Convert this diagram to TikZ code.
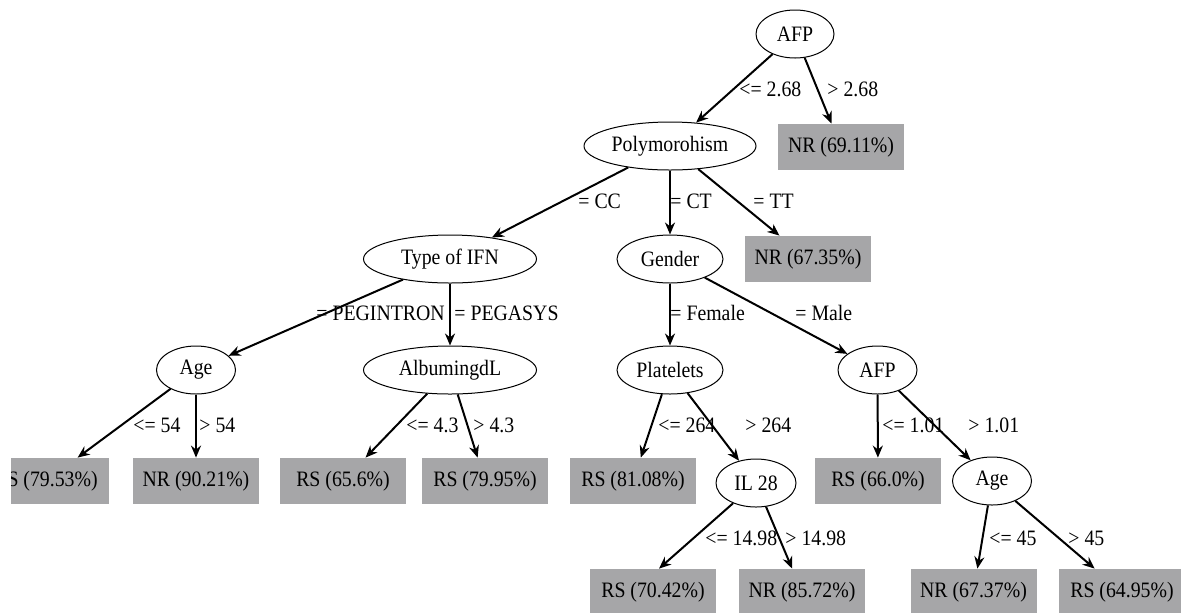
\documentclass[tikz,border=0pt]{standalone}
\usepackage{fontspec}
\setmainfont{Liberation Serif}[FakeStretch=0.9]
\usetikzlibrary{shapes.geometric, arrows.meta}
\definecolor{leafgray}{RGB}{166,166,168}
\newcommand{\nodetxt}[1]{\makebox[0pt]{#1}}

\begin{document}
\begin{tikzpicture}[x=0.5pt, y=-0.5pt, >={Stealth[length=6pt, width=5pt]},
    every node/.style={font=\fontsize{11}{13}\selectfont},
    decnode/.style={draw, ellipse, line width=0.5pt, fill=white, inner sep=0pt, minimum height=24pt},
    leafnode/.style={rectangle, fill=leafgray, inner sep=0pt, minimum width=63pt, minimum height=23pt},
    ramo/.style={->, line width=1pt},
    edgelab/.style={anchor=west, inner sep=0pt}]

    % Cornice dell'immagine
    \useasboundingbox (0,0) rectangle (1181,612);
    \clip (11,0) rectangle (1181,612);

    % --- NODI DI DECISIONE (ellissi) ---
    \node[decnode, minimum width=39pt]   (afp)       at (795,34)    {\nodetxt{AFP}};
    \node[decnode, minimum width=86pt]   (poly)      at (670,146)   {\nodetxt{Polymorohism}};
    \node[decnode, minimum width=86.5pt] (tipo)      at (450,259)   {\nodetxt{Type of IFN}};
    \node[decnode, minimum width=53pt]   (gender)    at (670,259)   {\nodetxt{Gender}};
    \node[decnode, minimum width=39.5pt] (age)       at (196,370)   {\nodetxt{Age}};
    \node[decnode, minimum width=86.5pt] (albumin)   at (450,370)   {\nodetxt{AlbumingdL}};
    \node[decnode, minimum width=53pt]   (platelets) at (670,370)   {\nodetxt{Platelets}};
    \node[decnode, minimum width=39.5pt] (afpb)      at (877.5,370) {\nodetxt{AFP}};
    \node[decnode, minimum width=40pt]   (il28)      at (756,483)   {\nodetxt{IL 28}};
    \node[decnode, minimum width=39.5pt] (ageb)      at (992,481)   {\nodetxt{Age}};

    % --- FOGLIE (rettangoli grigi) ---
    \node[leafnode] (nr6911) at (841,147)   {NR (69.11\%)};
    \node[leafnode] (nr6735) at (808,259)   {NR (67.35\%)};
    \node[leafnode] (rs7953) at (46,481)    {RS (79.53\%)};
    \node[leafnode] (nr9021) at (196,481)   {NR (90.21\%)};
    \node[leafnode] (rs656)  at (343,481)   {RS (65.6\%)};
    \node[leafnode] (rs7995) at (485,481)   {RS (79.95\%)};
    \node[leafnode] (rs8108) at (633,481)   {RS (81.08\%)};
    \node[leafnode] (rs660)  at (878,481)   {RS (66.0\%)};
    \node[leafnode] (rs7042) at (653,592)   {RS (70.42\%)};
    \node[leafnode] (nr8572) at (802,592)   {NR (85.72\%)};
    \node[leafnode] (nr6737) at (973.5,592) {NR (67.37\%)};
    \node[leafnode] (rs6495) at (1122,592)  {RS (64.95\%)};

    % --- RAMI ---
    \foreach \da/\a in {afp/poly, afp/nr6911, poly/tipo, poly/gender, poly/nr6735,
                        tipo/age, tipo/albumin, gender/platelets, gender/afpb,
                        age/rs7953, age/nr9021, albumin/rs656, albumin/rs7995,
                        platelets/rs8108, platelets/il28, afpb/rs660, afpb/ageb,
                        il28/nr8572, ageb/nr6737, ageb/rs6495} {
        \draw[ramo] (\da) -- (\a);
    }
    \draw[ramo] (il28) -- ([xshift=3pt]rs7042.north);

    % --- CONDIZIONI SUI RAMI ---
    \foreach \nome/\x/\y/\testo in {c1/739/89/<= 2.68, c2/827/89/> 2.68,
            c3/578/201/= CC, c4/670/201/= CT, c5/753/201/= TT,
            c6/316/313/= PEGINTRON, c7/454/313/= PEGASYS,
            c8/670/313/= Female, c9/795/313/= Male,
            c10/133/425/<= 54, c11/199/425/> 54, c12/406/425/<= 4.3, c13/473/425/> 4.3,
            c14/658/425/<= 264, c15/745/425/> 264, c16/882/425/<= 1.01, c17/968/425/> 1.01,
            c18/705/538/<= 14.98, c19/785/538/> 14.98, c20/989/538/<= 45, c21/1068/538/> 45} {
        \node[edgelab] (\nome) at (\x,\y) {\testo};
    }

\end{tikzpicture}
\end{document}
